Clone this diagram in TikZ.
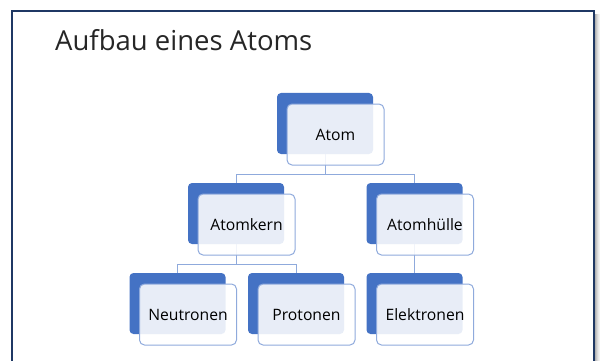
\documentclass[tikz,border=0pt]{standalone}
\usepackage{fontspec}
\setmainfont{Open Sans}
\usetikzlibrary{calc}
\definecolor{navy}{HTML}{1F3864}
\definecolor{boxblue}{HTML}{4472C4}
\definecolor{lineblue}{HTML}{8FAADC}
\pgfdeclarelayer{bg}
\pgfsetlayers{bg,main}
\begin{document}
\begin{tikzpicture}[x=1pt,y=-1pt,
  backbox/.style={draw=none, fill=boxblue, rounded corners=4pt, minimum width=96pt, minimum height=61pt, inner sep=0pt, outer sep=0pt},
  frontbox/.style={draw=lineblue, line width=1pt, fill=white, fill opacity=0.88, text opacity=1, rounded corners=5pt, minimum width=97pt, minimum height=61pt, inner sep=0pt, outer sep=0pt, font=\fontsize{15.7}{18}\selectfont, text=black},
  conn/.style={draw=lineblue, line width=1pt}]
\useasboundingbox (0,0) rectangle (600,361);
% slide frame with shadow
\foreach \i/\o in {1/0.30,2/0.22,3/0.15,4/0.09,5/0.05}{
  \fill[black, opacity=\o] (594+\i,14) rectangle (595+\i,370);
}
\draw[navy, line width=2.2pt] (12,11) rectangle (594,375);
\node[anchor=base west, font=\fontsize{27.5}{30}\selectfont, text=black!85, inner sep=0pt] (title) at (55,50.7) {Aufbau eines Atoms};
% back boxes
\node[backbox] (atomB) at (325,123.5) {};
\node[backbox] (kernB) at (236,213.5) {};
\node[backbox] (huelleB) at (414.5,213.5) {};
\node[backbox] (neutB) at (177.5,303.5) {};
\node[backbox] (protB) at (296,303.5) {};
\node[backbox] (elekB) at (414.5,303.5) {};
% front boxes
\node[frontbox] (atom) at ($(atomB)+(10.5,11)$) {Atom};
\node[frontbox] (kern) at ($(kernB)+(10.5,11)$) {Atomkern};
\node[frontbox] (huelle) at ($(huelleB)+(10.5,11)$) {Atomhülle};
\node[frontbox] (neut) at ($(neutB)+(10.5,11)$) {Neutronen};
\node[frontbox] (prot) at ($(protB)+(10.5,11)$) {Protonen};
\node[frontbox] (elek) at ($(elekB)+(10.5,11)$) {Elektronen};
% connectors
\coordinate (j1) at (325,174);
\coordinate (j2) at (236,264);
\begin{pgfonlayer}{bg}
\draw[conn] (atomB.center) -- (j1) -| (kernB.center);
\draw[conn] (j1) -| (huelleB.center);
\draw[conn] (kernB.center) -- (j2) -| (neutB.center);
\draw[conn] (j2) -| (protB.center);
\draw[conn] (huelleB.center) -- (elekB.center);
\end{pgfonlayer}
\end{tikzpicture}
\end{document}
